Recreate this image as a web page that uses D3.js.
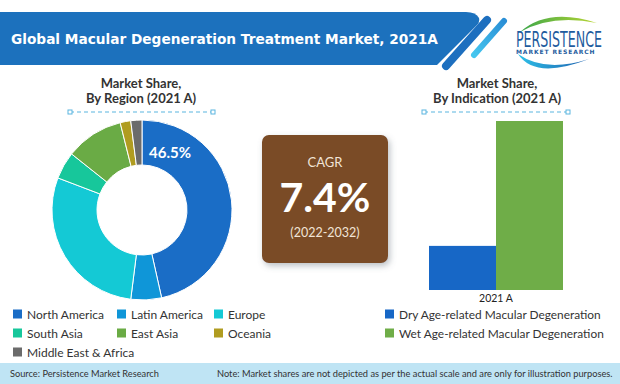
<!DOCTYPE html>
<html>
<head>
<meta charset="utf-8">
<script src="https://cdn.jsdelivr.net/npm/d3@7/dist/d3.min.js"></script>
<style>
  html, body { margin: 0; padding: 0; background: #fff; }
  svg { display: block; }
</style>
</head>
<body>
<svg id="chart" width="620" height="384"></svg>
<script>
// ---------------- DATA ----------------
const chartTitle = "Global Macular Degeneration Treatment Market, 2021A";
const regions = ["North America", "Latin America", "Europe", "South Asia", "East Asia", "Oceania", "Middle East & Africa"];
const regionShares = [46.5, 5.5, 28.8, 4.9, 10.4, 1.9, 2.0];
const regionColors = ["#1a6dc6", "#0f96d8", "#14c9d5", "#17c79b", "#6aab45", "#b09c20", "#6b6b6b"];
const indications = ["Dry Age-related Macular Degeneration", "Wet Age-related Macular Degeneration"];
const indicationShares = [20.7, 79.3];
const indicationColors = ["#1767c6", "#6fad48"];
const years = ["2021 A"];
const cagrLabel = "CAGR";
const cagrValue = "7.4%";
const cagrPeriod = "(2022-2032)";
const sourceText = "Source: Persistence Market Research";
const noteText = "Note: Market shares are not depicted as per the actual scale and are only for illustration purposes.";

// ---------------- SETUP ----------------
const svg = d3.select("#chart");
const FONT = "Lato, 'Open Sans', sans-serif";
const defs = svg.append("defs");

const sh = defs.append("filter").attr("id", "shadow").attr("x", "-20%").attr("y", "-20%").attr("width", "150%").attr("height", "150%");
sh.append("feDropShadow").attr("dx", 2).attr("dy", 3).attr("stdDeviation", 3).attr("flood-color", "#6a7680").attr("flood-opacity", 0.45);

const gGreen = defs.append("linearGradient").attr("id", "gGreen").attr("x1", "0").attr("x2", "1");
gGreen.append("stop").attr("offset", "0").attr("stop-color", "#3aa64a");
gGreen.append("stop").attr("offset", "1").attr("stop-color", "#b9d532");
const gBlue = defs.append("linearGradient").attr("id", "gBlue").attr("x1", "0").attr("x2", "1");
gBlue.append("stop").attr("offset", "0").attr("stop-color", "#2fc0e8");
gBlue.append("stop").attr("offset", "1").attr("stop-color", "#1d5fae");
const gStripe = defs.append("linearGradient").attr("id", "gStripe").attr("x1", "0").attr("y1", "1").attr("x2", "1").attr("y2", "0");
gStripe.append("stop").attr("offset", "0").attr("stop-color", "#45c6ef");
gStripe.append("stop").attr("offset", "1").attr("stop-color", "#2a8fd6");

// fit a text element to a target width by adjusting its font size
function fitWidth(sel, target) {
  const node = sel.node();
  const w = node.getComputedTextLength();
  const fs = parseFloat(sel.attr("font-size"));
  if (w > 0) sel.attr("font-size", (fs * target / w).toFixed(2));
  return sel;
}

// ---------------- HEADER ----------------
svg.append("path")
  .attr("d", "M0,12 L466,12 Q476,12 479,18 Q480,22 477,25 L437,65 L0,65 Z")
  .attr("fill", "#1c71bd");
const title = svg.append("text")
  .attr("x", 11).attr("y", 44)
  .attr("font-family", "'DejaVu Sans', sans-serif").attr("font-weight", "bold")
  .attr("font-size", 14).attr("fill", "#fff")
  .text(chartTitle);
fitWidth(title, 427);
svg.append("line").attr("x1", 487).attr("y1", 20).attr("x2", 446).attr("y2", 66)
  .attr("stroke", "#1d6fbf").attr("stroke-width", 8).attr("stroke-linecap", "round");
svg.append("line").attr("x1", 504).attr("y1", 21).attr("x2", 474).attr("y2", 55)
  .attr("stroke", "url(#gStripe)").attr("stroke-width", 6).attr("stroke-linecap", "round");

// logo
svg.append("path").attr("d", "M520,32 Q548,7 597,23 Q552,14 520,32 Z").attr("fill", "url(#gGreen)");
svg.append("path").attr("d", "M518,54 Q535,80 589,59 Q545,73 518,54 Z").attr("fill", "url(#gBlue)");
const logo1 = svg.append("g").attr("transform", "translate(516,46.5)");
const l1 = logo1.append("text").attr("x", 0).attr("y", 0)
  .attr("font-family", "'DejaVu Sans Condensed', 'DejaVu Sans', sans-serif").attr("font-size", 21)
  .attr("fill", "#1f5c9e").text("PERSISTENCE");
const l1w = l1.node().getComputedTextLength();
l1.attr("transform", `scale(${86 / l1w},1)`);
const l2 = svg.append("text").attr("x", 516).attr("y", 54)
  .attr("font-family", "'DejaVu Sans', sans-serif").attr("font-weight", "bold").attr("font-size", 6)
  .attr("letter-spacing", 0.9)
  .attr("fill", "#1f5c9e").text("MARKET RESEARCH");

// ---------------- SECTION TITLES ----------------
function sectionTitle(cx, lines, x1, x2) {
  const t = svg.append("text").attr("text-anchor", "middle")
    .attr("font-family", FONT).attr("font-weight", "bold").attr("font-size", 13).attr("fill", "#333");
  lines.forEach((l, i) => t.append("tspan").attr("x", cx).attr("y", 88 + i * 15).text(l));
  svg.append("line").attr("x1", x1).attr("x2", x2).attr("y1", 112).attr("y2", 112)
    .attr("stroke", "#5ab5e0").attr("stroke-width", 1.2).attr("stroke-dasharray", "4,3");
  [x1, x2].forEach(x => svg.append("rect").attr("x", x - 2).attr("y", 110).attr("width", 4).attr("height", 4)
    .attr("fill", "#fff").attr("stroke", "#5ab5e0").attr("stroke-width", 1));
}
sectionTitle(141, ["Market Share,", "By Region (2021 A)"], 70, 213);
sectionTitle(497, ["Market Share,", "By Indication (2021 A)"], 424, 568);

// ---------------- DONUT ----------------
const cx = 142, cy = 210;
const pie = d3.pie().sort(null).value(d => d);
const arcs = pie(regionShares);
const arc = d3.arc().innerRadius(45).outerRadius(90);
const gD = svg.append("g").attr("transform", `translate(${cx},${cy})`);
gD.selectAll("path").data(arcs).join("path")
  .attr("d", arc)
  .attr("fill", (d, i) => regionColors[i])
  .attr("stroke", "#fff").attr("stroke-width", 1);
// label of the largest slice
const labelArc = d3.arc().innerRadius(64).outerRadius(64);
const a0 = arcs[0];
const ang = a0.startAngle + (a0.endAngle - a0.startAngle) * 0.155;
const lblPos = labelArc.centroid({startAngle: ang, endAngle: ang});
gD.append("text")
  .attr("x", lblPos[0]).attr("y", lblPos[1])
  .attr("text-anchor", "middle").attr("dominant-baseline", "central")
  .attr("font-family", FONT).attr("font-weight", "bold").attr("font-size", 15).attr("fill", "#fff")
  .text(regionShares[0] + "%");

// ---------------- CAGR BOX ----------------
svg.append("rect").attr("x", 262).attr("y", 135).attr("width", 126).attr("height", 128)
  .attr("rx", 7).attr("fill", "#7a4b25").attr("filter", "url(#shadow)");
svg.append("text").attr("x", 325).attr("y", 167).attr("text-anchor", "middle")
  .attr("font-family", FONT).attr("font-size", 13).attr("fill", "#f1e4d6").text(cagrLabel);
svg.append("text").attr("x", 325).attr("y", 212).attr("text-anchor", "middle")
  .attr("font-family", FONT).attr("font-weight", "bold").attr("font-size", 41).attr("fill", "#fff").text(cagrValue);
svg.append("text").attr("x", 325).attr("y", 237).attr("text-anchor", "middle")
  .attr("font-family", FONT).attr("font-size", 12.5).attr("fill", "#f1e4d6").text(cagrPeriod);

// ---------------- BAR CHART ----------------
const x0 = d3.scaleBand().domain(years).range([429, 563]).padding(0);
const x1 = d3.scaleBand().domain(indications).range([0, x0.bandwidth()]).padding(0);
const y = d3.scaleLinear().domain([0, d3.max(indicationShares)]).range([290, 121]);
const gB = svg.append("g");
years.forEach(yr => {
  gB.selectAll("rect.bar").data(indications).join("rect").attr("class", "bar")
    .attr("x", d => x0(yr) + x1(d))
    .attr("width", x1.bandwidth())
    .attr("y", (d, i) => y(indicationShares[i]))
    .attr("height", (d, i) => y(0) - y(indicationShares[i]))
    .attr("fill", (d, i) => indicationColors[i]);
});
const xAxis = d3.axisBottom(x0).tickSize(0).tickPadding(5);
const gx = svg.append("g").attr("transform", `translate(0,${y(0)})`).call(xAxis);
gx.select(".domain").remove();
gx.selectAll("text").attr("font-family", FONT).attr("font-size", 10.5).attr("fill", "#222");

// ---------------- LEGENDS ----------------
const colX = [13, 117, 214];
const rowY = [314, 333, 352];
const gL = svg.append("g").attr("font-family", FONT).attr("fill", "#333");
regions.forEach((r, i) => {
  const lx = colX[i % 3], ly = rowY[Math.floor(i / 3)];
  gL.append("rect").attr("x", lx).attr("y", ly - 4.5).attr("width", 9).attr("height", 9).attr("fill", regionColors[i]);
  gL.append("text").attr("x", lx + 14).attr("y", ly).attr("dominant-baseline", "central").attr("font-size", 12).text(r);
});
indications.forEach((r, i) => {
  const lx = 385, ly = rowY[i];
  gL.append("rect").attr("x", lx).attr("y", ly - 4.5).attr("width", 9).attr("height", 9).attr("fill", indicationColors[i]);
  const t = gL.append("text").attr("x", lx + 14).attr("y", ly).attr("dominant-baseline", "central").attr("font-size", 12).text(r);
  if (i === 0) fitWidth(t, 202);
  else t.attr("font-size", gL.select("text:nth-of-type(8)").attr("font-size"));
});
// keep both indication labels at the same size
const indTexts = gL.selectAll("text").filter((d, i, n) => i >= regions.length);
const fsInd = d3.min(indTexts.nodes(), n => +n.getAttribute("font-size"));
indTexts.attr("font-size", fsInd);

// ---------------- FOOTER ----------------
svg.append("rect").attr("x", 0).attr("y", 363).attr("width", 620).attr("height", 21).attr("fill", "#bfe4f4");
const src = svg.append("text").attr("x", 10).attr("y", 377).attr("font-family", FONT).attr("font-size", 10).attr("fill", "#333").text(sourceText);
fitWidth(src, 149);
const note = svg.append("text").attr("x", 217).attr("y", 377).attr("font-family", FONT).attr("font-size", 10).attr("fill", "#333").text(noteText);
fitWidth(note, 396);
</script>
</body>
</html>
